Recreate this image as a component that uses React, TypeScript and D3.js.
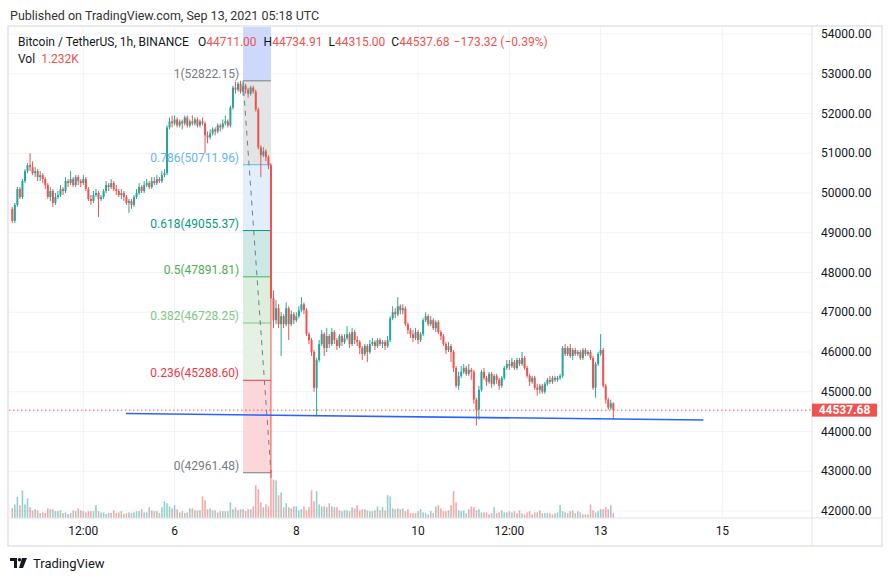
import React from "react";
import * as d3 from "d3";

// ---------- DATA ----------
const startTime = Date.UTC(2021, 8, 3, 8); // first hourly candle
const firstOpen = 49600;
const closes = [
  49300,49700,50100,49900,50300,50550,50700,50650,50500,50550,
  50400,50450,50350,50200,49900,50050,49750,49900,49950,50100,
  50050,50300,50250,50350,50200,50400,50300,50250,50350,50100,
  49850,49800,49950,50000,49850,49900,50050,50200,50150,50250,
  50100,50050,49950,50000,49900,49750,49800,49700,49900,50000,
  50150,50050,50200,50250,50150,50300,50250,50350,50300,50450,
  50500,51650,51800,51750,51850,51700,51800,51750,51900,51700,
  51800,51750,51850,51700,51800,51750,51450,51400,51500,
  51600,51550,51700,51650,51750,51800,51700,52150,52650,52600,
  52750,52550,52700,52600,52500,52650,52550,52100,51150,50950,
  51050,50900,50700,47350,46800,47100,46700,46900,46700,47100,
  46700,46950,46800,46900,47050,47200,47050,46450,46300,46000,
  45100,45800,46200,46450,46100,46400,46200,46500,46300,46150,
  46400,46250,46350,46450,46200,46500,46300,46250,46100,45950,
  46150,46000,46200,46250,46150,46300,46200,46250,46150,46300,
  46850,47000,46950,47150,47050,47100,46700,46550,46450,46350,
  46500,46300,46450,46800,46900,46700,46800,46600,46750,46500,
  46400,46200,46050,46150,46000,45600,45150,45400,45500,45600,
  45450,45550,45500,44800,44550,45050,45500,45350,45250,45450,
  45200,45400,45300,45150,45350,45600,45700,45650,45750,45600,
  45800,45700,45850,45600,45400,45250,45350,45100,45050,45150,
  45000,45200,45300,45250,45350,45300,45350,45400,46100,45950,
  46100,45900,46050,45950,46000,45850,46050,45950,46000,45850,
  45100,45700,45950,46050,45150,44800,44600,44711,44537.68,
];
const highs = [
  49650,49750,50150,50150,50350,50600,50750,51000,50800,50650,
  50600,50550,50500,50400,50250,50150,50100,50000,50050,50200,
  50150,50400,50350,50550,50400,50450,50450,50350,50450,50400,
  50150,49950,50050,50100,50050,49950,50100,50300,50250,50350,
  50300,50200,50100,50100,50050,49950,49850,49850,49950,50100,
  50250,50200,50300,50350,50300,50400,50400,50450,50400,50550,
  50600,51700,51900,51950,51950,51900,51850,51850,51950,51950,
  51850,51950,51900,51900,51850,51900,51800,51550,51600,
  51650,51650,51750,51750,51850,51950,51850,52200,52700,52800,
  52800,52822.15,52780,52750,52650,52700,52700,52600,52150,51200,
  51150,51100,50950,50750,47550,47300,47200,47000,46950,47250,
  47150,47050,47000,47000,47150,47380,47250,47100,46500,46350,
  46050,45850,46300,46550,46500,46600,46450,46600,46550,46350,
  46450,46450,46450,46650,46500,46600,46550,46400,46300,46150,
  46200,46200,46300,46350,46300,46350,46350,46300,46300,46400,
  46900,47150,47100,47380,47200,47200,47150,46750,46600,46550,
  46600,46550,46500,46850,47000,46950,46900,46850,46800,46800,
  46550,46450,46250,46250,46200,46050,45650,45500,45650,45700,
  45650,45700,45600,45550,44850,45150,45550,45600,45400,45500,
  45500,45450,45450,45350,45400,45650,45800,45800,45850,45800,
  45850,45850,46000,45900,45650,45450,45400,45400,45200,45200,
  45200,45250,45350,45400,45400,45400,45400,45450,46150,46200,
  46150,46200,46100,46100,46050,46050,46100,46100,46050,46050,
  45900,45750,46000,46450,46100,45200,44850,44800,44734.91,
];
const lows = [
  49250,49250,49650,49850,49850,50250,50500,50550,50450,50400,
  50300,50300,50250,50100,49850,49800,49650,49700,49850,49900,
  49950,50000,50150,50200,50150,50150,50200,50150,50200,50050,
  49800,49700,49750,49900,49400,49800,49850,50000,50050,50100,
  50050,49950,49900,49850,49800,49700,49500,49600,49650,49850,
  49950,50000,50000,50150,50100,50100,50200,50200,50250,50250,
  50400,50450,51600,51650,51700,51650,51650,51600,51700,51650,
  51650,51700,51700,51650,51650,51700,51000,51250,51350,
  51450,51450,51500,51550,51600,51700,51650,51650,52100,52500,
  52550,52500,52450,52500,52400,52450,52500,52050,51100,50400,
  50900,50800,50600,42830,46600,46700,46600,45900,46600,46650,
  46300,46650,46700,46750,46850,47000,46950,46400,46200,45900,
  45000,44380,45750,46150,45900,46000,46100,46150,46200,46050,
  46100,46150,46200,46300,46100,46150,46200,46150,45950,45800,
  45900,45750,45950,46150,46050,46100,46150,46100,46050,46100,
  46250,46800,46850,46900,46950,46950,46650,46450,46350,46250,
  46300,46200,46250,46400,46750,46650,46650,46550,46500,46450,
  46300,46150,45950,46000,45750,45500,45100,45050,45350,45450,
  45400,45400,45300,44700,44150,44300,45000,45300,45150,45200,
  45100,45150,45200,45050,45100,45300,45550,45550,45600,45550,
  45550,45650,45650,45550,45350,45150,45200,45050,44900,44950,
  44950,44950,45150,45200,45200,45250,45250,45300,45350,45900,
  45900,45850,45800,45900,45900,45800,45800,45900,45900,45800,
  45050,44850,45650,45900,45100,44700,44550,44550,44315,
];
// volume in thousands of BTC
const volumesK = [
  2.5,3.4,5.3,3.2,6.9,3.4,4.9,2.7,1.9,2.2,
  1.9,1.25,1.4,1.25,2.4,2.2,2.2,1.7,1.7,1.9,
  1.25,1.4,1.0,1.25,1.9,1.7,2.4,1.9,1.7,1.4,
  1.7,1.7,1.7,3.2,1.7,1.4,1.4,1.0,1.25,1.25,
  1.9,1.25,1.4,1.7,1.0,1.25,1.4,1.25,1.4,1.7,
  1.7,2.2,1.4,1.4,2.7,1.9,1.7,1.7,1.25,2.7,
  4.2,3.7,2.9,2.4,3.2,2.2,1.4,1.7,1.25,1.4,
  2.4,2.4,1.9,1.9,1.9,5.4,4.4,2.2,2.4,1.9,
  1.9,1.4,1.7,1.7,1.7,1.7,3.9,2.2,2.7,1.9,
  2.2,2.2,1.7,2.2,2.2,2.9,8.2,7.2,3.9,2.7,
  3.4,2.9,12,9.6,9.4,5.7,6.4,2.7,3.7,2.7,
  2.4,2.9,2.9,1.9,
  2.2,2.9,1.9,2.7,6.9,4.2,6.7,3.4,2.9,2.9,
  2.7,3.7,2.9,2.7,2.7,1.9,1.7,1.9,1.9,1.7,
  2.7,2.4,3.2,1.9,2.2,2.2,1.9,1.7,1.7,1.9,
  2.9,1.9,2.7,1.9,5.7,5.4,2.4,2.2,2.4,2.2,
  2.4,1.7,2.2,1.2,1.2,1.2,1.7,2.2,1.4,1.2,
  0.9,1.7,1.2,2.9,3.2,2.4,1.7,1.7,1.9,3.2,
  6.7,3.9,1.9,1.7,1.9,1.2,2.2,2.9,2.7,1.9,
  2.2,1.4,1.4,1.4,0.9,1.2,2.7,1.2,1.4,1.9,
  1.4,1.4,1.7,1.4,1.7,1.2,1.9,1.2,0.9,1.4,
  1.7,0.9,1.4,1.4,1.9,1.2,1.2,1.2,1.2,0.9,
  1.2,1.4,3.2,1.7,1.4,1.2,1.7,1.9,1.2,1.7,
  1.4,0.9,0.9,0.9,3.4,1.9,1.4,1.7,2.2,2.2,
  2.7,2.2,3.2,1.232,
];
const priceTicks = [42000,43000,44000,45000,46000,47000,48000,49000,50000,51000,52000,53000,54000];
const timeTickTimes = [
  Date.UTC(2021,8,4,12), Date.UTC(2021,8,6), Date.UTC(2021,8,8), Date.UTC(2021,8,10),
  Date.UTC(2021,8,11,12), Date.UTC(2021,8,13), Date.UTC(2021,8,15),
];
const timeTickLabels = ["12:00","6","8","10","12:00","13","15"];

const fibRatios = ["1","0.786","0.618","0.5","0.382","0.236","0"];
const fibPrices = [52822.15,50711.96,49055.37,47891.81,46728.25,45288.60,42961.48];
const fibTopPrice = 58915; // 1.618 extension (off-chart)
const fibLineColors = ["#787b86","#64b5f6","#089981","#4caf50","#81c784","#f23645","#787b86"];
const fibLabelColors = ["#787b86","#64b5f6","#089981","#4caf50","#81c784","#f23645","#787b86"];
const fibBandColors = ["#cdd8fb","#e3e4e6","#e1effc","#cde9e5","#dbefdc","#e4f2e4","#fcd7d9"];
const fibStart = Date.UTC(2021,8,7,3);
const fibEnd = Date.UTC(2021,8,7,14);

const trendTimes = [Date.UTC(2021,8,5,4,48), Date.UTC(2021,8,14,16,30)];
const trendPrices = [44452, 44289];
const lastPrice = 44537.68;

const UP = "#26a69a";
const DOWN = "#ef5350";
const TEXT = "#131722";
const FONT = "Roboto, 'Noto Sans', sans-serif";

export default function App() {
  const W = 892, H = 581;
  const plotL = 9, plotR = 812, plotT = 27, plotB = 518;

  const x = d3.scaleTime()
    .domain([new Date(Date.UTC(2021,8,6)), new Date(Date.UTC(2021,8,16))])
    .range([174.6, 174.6 + 240 * 2.536]);
  const y = d3.scaleLinear().domain([42000, 54000]).range([511, 34]);
  const yVol = d3.scaleLinear().domain([0, 10]).range([plotB, plotB - 40]);

  const candles = closes.map((c, i) => {
    const o = i === 0 ? firstOpen : closes[i - 1];
    return { t: new Date(startTime + i * 3600000), o, h: highs[i], l: lows[i], c, v: volumesK[i] };
  });

  const fibX0 = x(new Date(fibStart));
  const fibX1 = x(new Date(fibEnd));
  const bandEdges = [fibTopPrice, ...fibPrices];

  const bw = 2;

  return (
    <svg width={W} height={H} style={{ position: "absolute", left: 0, top: 0, background: "#fff" }} fontFamily={FONT}>
      <defs>
        <clipPath id="plot">
          <rect x={plotL} y={plotT} width={plotR - plotL} height={plotB - plotT} />
        </clipPath>
      </defs>
      <rect x={0} y={0} width={W} height={H} fill="#fff" />
      <text x={10} y={15} fontSize={12.5} fill="#333" dominantBaseline="central">
        Published on TradingView.com, Sep 13, 2021 05:18 UTC
      </text>

      {/* grid */}
      <g>
        {priceTicks.map((p) => (
          <line key={p} x1={plotL} x2={plotR} y1={y(p)} y2={y(p)} stroke="#f0f3fa" strokeWidth={1} />
        ))}
        {timeTickTimes.map((t, i) => (
          <line key={i} x1={x(new Date(t))} x2={x(new Date(t))} y1={plotT} y2={plotB} stroke="#f0f3fa" strokeWidth={1} />
        ))}
      </g>

      <g clipPath="url(#plot)">
        {/* fib bands */}
        {fibBandColors.map((col, i) => {
          const y0 = y(bandEdges[i]);
          const y1 = y(bandEdges[i + 1]);
          return <rect key={i} x={fibX0} y={y0} width={fibX1 - fibX0} height={y1 - y0} fill={col} />;
        })}
        {fibPrices.map((p, i) => (
          <line key={i} x1={fibX0} x2={fibX1} y1={y(p)} y2={y(p)} stroke={fibLineColors[i]} strokeWidth={1} />
        ))}
        <line x1={fibX0} y1={y(fibPrices[0])} x2={fibX1} y2={y(fibPrices[6])} stroke="#787b86" strokeWidth={1} strokeDasharray="5,5" />

        {/* volume */}
        {candles.map((d, i) => (
          <rect key={"v" + i} x={x(d.t) - 0.8} y={yVol(d.v)} width={1.6} height={plotB - yVol(d.v)}
            fill={d.c >= d.o ? UP : DOWN} fillOpacity={0.5} />
        ))}

        {/* candles */}
        {candles.map((d, i) => {
          const cx = x(d.t);
          const col = d.c >= d.o ? UP : DOWN;
          const top = y(Math.max(d.o, d.c));
          const bot = y(Math.min(d.o, d.c));
          return (
            <g key={"c" + i}>
              <line x1={cx} x2={cx} y1={y(d.h)} y2={y(d.l)} stroke={col} strokeWidth={1} />
              <rect x={cx - bw / 2} y={top} width={bw} height={Math.max(1, bot - top)} fill={col} />
            </g>
          );
        })}

        {/* trend line */}
        <line x1={x(new Date(trendTimes[0]))} y1={y(trendPrices[0])} x2={x(new Date(trendTimes[1]))} y2={y(trendPrices[1])}
          stroke="#2962ff" strokeWidth={1.6} />
        {/* last price line */}
        <line x1={plotL} x2={plotR} y1={y(lastPrice)} y2={y(lastPrice)} stroke={DOWN} strokeWidth={1} strokeDasharray="1.5,2.5" />
      </g>

      {/* fib labels */}
      {fibPrices.map((p, i) => (
        <text key={i} x={fibX0 - 4} y={y(p) - 3} textAnchor="end" fontSize={12} fill={fibLabelColors[i]}>
          {`${fibRatios[i]}(${p.toFixed(2)})`}
        </text>
      ))}

      {/* legend */}
      <text x={18} y={42} fontSize={12} dominantBaseline="central" fill={TEXT}>
        <tspan>Bitcoin / TetherUS, 1h, BINANCE</tspan>
        <tspan dx={9}>O</tspan><tspan fill={DOWN}>44711.00</tspan>
        <tspan dx={7}>H</tspan><tspan fill={DOWN}>44734.91</tspan>
        <tspan dx={6}>L</tspan><tspan fill={DOWN}>44315.00</tspan>
        <tspan dx={6}>C</tspan><tspan fill={DOWN}>44537.68</tspan>
        <tspan dx={4} fill={DOWN}>−173.32 (−0.39%)</tspan>
      </text>
      <text x={18} y={58.5} fontSize={12} dominantBaseline="central" fill={TEXT}>
        <tspan>Vol</tspan><tspan dx={6} fill={DOWN}>1.232K</tspan>
      </text>

      {/* frame */}
      <rect x={8} y={26} width={874} height={520} fill="none" stroke="#e0e3eb" strokeWidth={1.5} />
      <line x1={plotR} x2={plotR} y1={26} y2={546} stroke="#e0e3eb" strokeWidth={1} />
      <line x1={8} x2={882} y1={plotB} y2={plotB} stroke="#e0e3eb" strokeWidth={1} />

      {/* price axis */}
      {priceTicks.map((p) => (
        <text key={p} x={821} y={y(p)} fontSize={12} fill={TEXT} dominantBaseline="central">
          {d3.format(".2f")(p)}
        </text>
      ))}
      <rect x={812} y={y(lastPrice) - 6.5} width={65} height={13} fill={DOWN} />
      <text x={844.5} y={y(lastPrice)} fontSize={12} fontWeight={700} fill="#fff" textAnchor="middle" dominantBaseline="central">
        {d3.format(".2f")(lastPrice)}
      </text>

      {/* time axis */}
      {timeTickTimes.map((t, i) => (
        <text key={i} x={x(new Date(t))} y={531} fontSize={12} fill={TEXT} textAnchor="middle" dominantBaseline="central">
          {timeTickLabels[i]}
        </text>
      ))}

      {/* TradingView logo */}
      <g fill={TEXT}>
        <rect x={10} y={558} width={7} height={3} />
        <rect x={14} y={558} width={3} height={10} />
        <circle cx={19.5} cy={559.7} r={1.7} />
        <polygon points="22,558 27,558 23,568 19,568" />
      </g>
      <text x={33} y={563} fontSize={13} fill={TEXT} dominantBaseline="central">TradingView</text>
    </svg>
  );
}
